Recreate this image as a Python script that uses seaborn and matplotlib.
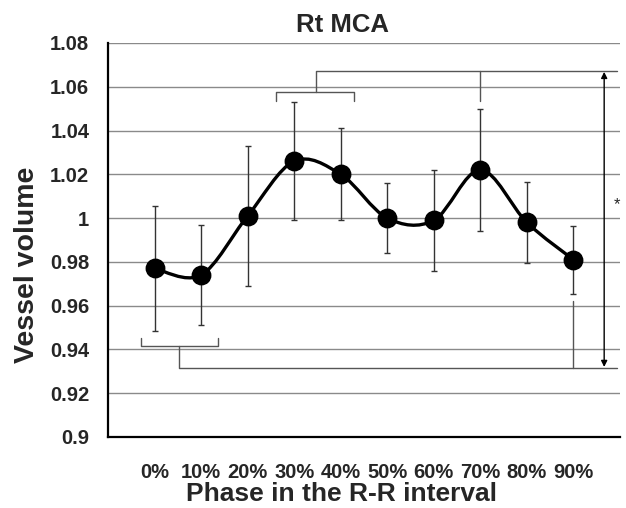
import numpy as np
import pandas as pd
import matplotlib
matplotlib.use("Agg")
import matplotlib.pyplot as plt
from matplotlib.path import Path
from matplotlib.patches import PathPatch
import seaborn as sns

# data
phases = ['0%', '10%', '20%', '30%', '40%', '50%', '60%', '70%', '80%', '90%']
volume = [0.977, 0.974, 1.001, 1.026, 1.020, 1.000, 0.999, 1.022, 0.998, 0.981]
sd = [0.0285, 0.0228, 0.032, 0.027, 0.021, 0.016, 0.023, 0.028, 0.0185, 0.0155]
ytick_vals = [0.9, 0.92, 0.94, 0.96, 0.98, 1.0, 1.02, 1.04, 1.06, 1.08]
ytick_labels = ['0.9', '0.92', '0.94', '0.96', '0.98', '1', '1.02', '1.04', '1.06', '1.08']

df = pd.DataFrame({'pos': np.arange(len(phases)), 'phase': phases,
                   'volume': volume, 'sd': sd})

sns.set_style("white")
plt.rcParams['font.family'] = ['Liberation Sans', 'DejaVu Sans']
plt.rcParams['font.weight'] = 'bold'

W, H = 626, 508
fig = plt.figure(figsize=(W / 100, H / 100), dpi=100)
ax = fig.add_axes([108 / W, 1 - 437 / H, (620 - 108) / W, (437 - 43) / H])

ax.set_xlim(-1, 10)
ax.set_ylim(0.9, 1.08)
ax.set_yticks(ytick_vals)
ax.set_yticklabels(ytick_labels)
ax.set_xticks(range(-1, 11))
ax.set_xticklabels([''] + phases + [''])
ax.yaxis.grid(True, color='#8a8a8a', lw=1)
ax.xaxis.grid(False)
ax.set_axisbelow(True)
sns.despine(ax=ax)
for s in ['left', 'bottom']:
    ax.spines[s].set_linewidth(1.6)
    ax.spines[s].set_color('black')
ax.tick_params(axis='both', direction='out', length=6.5, width=1.3, color='black',
               labelsize=14.5)
ax.tick_params(axis='x', pad=12)
ax.tick_params(axis='y', pad=7)
for lab in ax.get_xticklabels() + ax.get_yticklabels():
    lab.set_fontweight('bold')

# error bars
ax.errorbar(df['pos'], df['volume'], yerr=df['sd'], fmt='none', ecolor='#333333',
            elinewidth=1, capsize=2.5, capthick=1, zorder=2)

# smoothed line (Catmull-Rom as cubic bezier)
pts = df[['pos', 'volume']].to_numpy()
ext = np.vstack([pts[0], pts, pts[-1]])
verts = [tuple(pts[0])]
codes = [Path.MOVETO]
for i in range(1, len(ext) - 2):
    p0, p1, p2, p3 = ext[i - 1], ext[i], ext[i + 1], ext[i + 2]
    c1 = p1 + (p2 - p0) / 6
    c2 = p2 - (p3 - p1) / 6
    verts += [tuple(c1), tuple(c2), tuple(p2)]
    codes += [Path.CURVE4] * 3
ax.add_patch(PathPatch(Path(verts, codes), fill=False, lw=2.4, color='black', zorder=3))

sns.scatterplot(data=df, x='pos', y='volume', s=175, color='black',
                edgecolor='black', ax=ax, zorder=4, legend=False)
ax.set_xlabel('')
ax.set_ylabel('')

# significance brackets
bc = '#555555'
blw = 1
# lower left bracket (0%,10%) to 90%
ax.plot([-0.3, -0.3, 1.36, 1.36], [0.9453, 0.9415, 0.9415, 0.9453], color=bc, lw=blw)
ax.plot([0.52, 0.52, 9.93], [0.9415, 0.9315, 0.9315], color=bc, lw=blw)
ax.plot([9, 9], [0.9315, 0.9623], color=bc, lw=blw)
# upper bracket (30%,40%) to 70%
ax.plot([2.62, 2.62, 4.29, 4.29], [1.0536, 1.0575, 1.0575, 1.0536], color=bc, lw=blw)
ax.plot([3.46, 3.46, 9.93], [1.0575, 1.0672, 1.0672], color=bc, lw=blw)
ax.plot([7, 7], [1.0672, 1.0536], color=bc, lw=blw)
# double arrow and star
ax.annotate('', xy=(9.66, 0.932), xytext=(9.66, 1.0668),
            arrowprops=dict(arrowstyle='<|-|>', color='black', lw=1,
                            mutation_scale=9, shrinkA=0, shrinkB=0))
ax.text(9.93, 1.0063, '*', ha='center', va='center', fontsize=12, fontweight='normal')

fig.text(343 / W, 1 - 25 / H, 'Rt MCA', ha='center', va='center',
         fontsize=18.5, fontweight='bold')
fig.text(341 / W, 1 - 501 / H, 'Phase in the R-R interval', ha='center', va='baseline',
         fontsize=19, fontweight='bold')
fig.text(27 / W, 1 - 265 / H, 'Vessel volume', ha='center', va='center',
         rotation=90, fontsize=20.5, fontweight='bold')

fig.savefig('out.png', dpi=100)
